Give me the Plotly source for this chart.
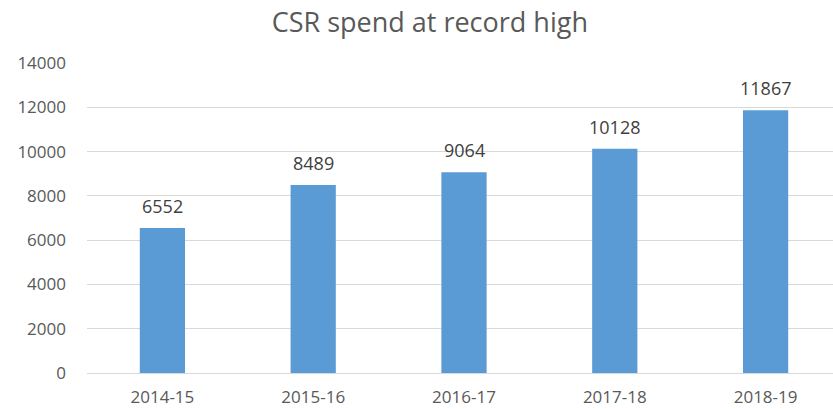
import plotly.graph_objects as go

years = ["2014-15", "2015-16", "2016-17", "2017-18", "2018-19"]
spend = [6552, 8489, 9064, 10128, 11867]
y_ticks = [0, 2000, 4000, 6000, 8000, 10000, 12000, 14000]

FONT = "Open Sans"
GRAY = "#595959"

fig = go.Figure(
    go.Bar(
        x=years,
        y=spend,
        marker=dict(color="#5B9BD5", line=dict(width=0)),
        width=0.3,
    )
)

# value labels above each bar
for yr, v in zip(years, spend):
    fig.add_annotation(
        x=yr,
        y=v,
        text=str(v),
        showarrow=False,
        yanchor="bottom",
        yshift=8,
        font=dict(family=FONT, size=18, color="#404040"),
    )

fig.update_layout(
    width=833,
    height=409,
    margin=dict(l=87, r=0, t=63, b=36),
    paper_bgcolor="white",
    plot_bgcolor="white",
    showlegend=False,
    title=dict(
        text="CSR spend at record high",
        x=0.516,
        xanchor="center",
        y=0.945,
        yanchor="middle",
        font=dict(family=FONT, size=27, color=GRAY),
    ),
    xaxis=dict(
        range=[-0.5, 4.447],
        showgrid=False,
        showline=False,
        ticks="",
        ticklabelstandoff=12,
        tickfont=dict(family=FONT, size=17, color=GRAY),
    ),
    yaxis=dict(
        range=[0, 14000],
        tickvals=y_ticks,
        ticktext=[str(t) for t in y_ticks],
        showgrid=True,
        gridcolor="#D9D9D9",
        gridwidth=1,
        zeroline=True,
        zerolinecolor="#D9D9D9",
        zerolinewidth=1,
        showline=False,
        ticks="",
        ticklabelstandoff=20,
        tickfont=dict(family=FONT, size=17, color=GRAY),
    ),
)

fig.write_html("out.html")
